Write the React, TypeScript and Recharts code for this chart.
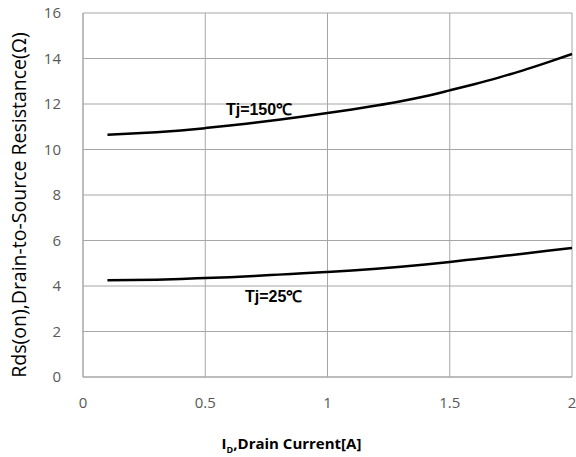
import React from "react";
import { LineChart, Line, XAxis, YAxis, CartesianGrid, ReferenceDot, Label } from "recharts";

const currents = [0.1, 0.2, 0.3, 0.4, 0.5, 0.6, 0.7, 0.8, 0.9, 1.0, 1.1, 1.2, 1.3, 1.4, 1.5, 1.6, 1.7, 1.8, 1.9, 2.0];
const rds150 = [10.65, 10.7, 10.76, 10.84, 10.94, 11.05, 11.18, 11.31, 11.45, 11.6, 11.76, 11.93, 12.12, 12.34, 12.6, 12.87, 13.16, 13.48, 13.83, 14.2];
const rds25 = [4.25, 4.26, 4.28, 4.31, 4.35, 4.39, 4.44, 4.5, 4.56, 4.62, 4.68, 4.76, 4.85, 4.95, 5.06, 5.18, 5.3, 5.42, 5.55, 5.67];
const xTicks = [0, 0.5, 1, 1.5, 2];
const yTicks = [0, 2, 4, 6, 8, 10, 12, 14, 16];
const label150 = "Tj=150℃";
const label25 = "Tj=25℃";

const data = currents.map((c, i) => ({ id: c, t150: rds150[i], t25: rds25[i] }));

const FONT = "'Open Sans', 'Liberation Sans', sans-serif";
const ARIAL = "'Liberation Sans', Arial, sans-serif";
const GRID = "#a6a6a6";
const TICK = "#595959";

const XTitle = (props: any) => {
  const vb = props.viewBox || {};
  const cx = vb.x + vb.width / 2;
  const y = vb.y + vb.height + 42;
  return (
    <text x={cx - 36} y={y} textAnchor="middle" fontFamily={FONT} fontWeight="bold" fontSize={15} fill="#000">
      <tspan>I</tspan>
      <tspan fontSize={9} dy={4}>D</tspan>
      <tspan dy={-4}>,Drain Current[A]</tspan>
    </text>
  );
};

const YTitle = (props: any) => {
  const vb = props.viewBox || {};
  const x = 26;
  const y = vb.y + vb.height / 2 + 10;
  return (
    <text x={x} y={y} transform={`rotate(-90, ${x}, ${y})`} textAnchor="middle" fontFamily={FONT} fontSize={19.5} fill="#000">
      Rds(on),Drain-to-Source Resistance(Ω)
    </text>
  );
};

const CurveLabel = (props: any) => {
  const vb = props.viewBox || {};
  const x = vb.x + (vb.width || 0) / 2;
  const y = vb.y + (vb.height || 0) / 2;
  return (
    <text x={x} y={y} dy={5} textAnchor="middle" fontFamily={ARIAL} fontWeight="bold" fontSize={16} fill="#000">
      {props.value}
    </text>
  );
};

export default function App() {
  return (
    <div style={{ position: "absolute", left: 0, top: 0, width: 576, height: 457, background: "#fff" }}>
      <LineChart width={576} height={457} data={data} margin={{ top: 13, right: 4, left: 23, bottom: 50 }}>
        <CartesianGrid stroke={GRID} strokeWidth={1} />
        <XAxis
          dataKey="id"
          type="number"
          domain={[0, 2]}
          ticks={xTicks}
          tickFormatter={(v: number) => String(v)}
          stroke={GRID}
          tickLine={false}
          tickMargin={14}
          height={30}
          tick={{ fill: TICK, fontSize: 15, fontFamily: FONT }}
        >
          <Label content={<XTitle />} />
        </XAxis>
        <YAxis
          type="number"
          domain={[0, 16]}
          ticks={yTicks}
          stroke={GRID}
          tickLine={false}
          tickMargin={16}
          width={60}
          tick={{ fill: TICK, fontSize: 15, fontFamily: FONT }}
        >
          <Label content={<YTitle />} />
        </YAxis>
        <Line type="monotone" dataKey="t150" stroke="#000" strokeWidth={2.5} dot={false} isAnimationActive={false} />
        <Line type="monotone" dataKey="t25" stroke="#000" strokeWidth={2.5} dot={false} isAnimationActive={false} />
        <ReferenceDot x={0.72} y={11.75} r={0} fill="none" stroke="none">
          <Label content={<CurveLabel value={label150} />} />
        </ReferenceDot>
        <ReferenceDot x={0.78} y={3.5} r={0} fill="none" stroke="none">
          <Label content={<CurveLabel value={label25} />} />
        </ReferenceDot>
      </LineChart>
    </div>
  );
}
